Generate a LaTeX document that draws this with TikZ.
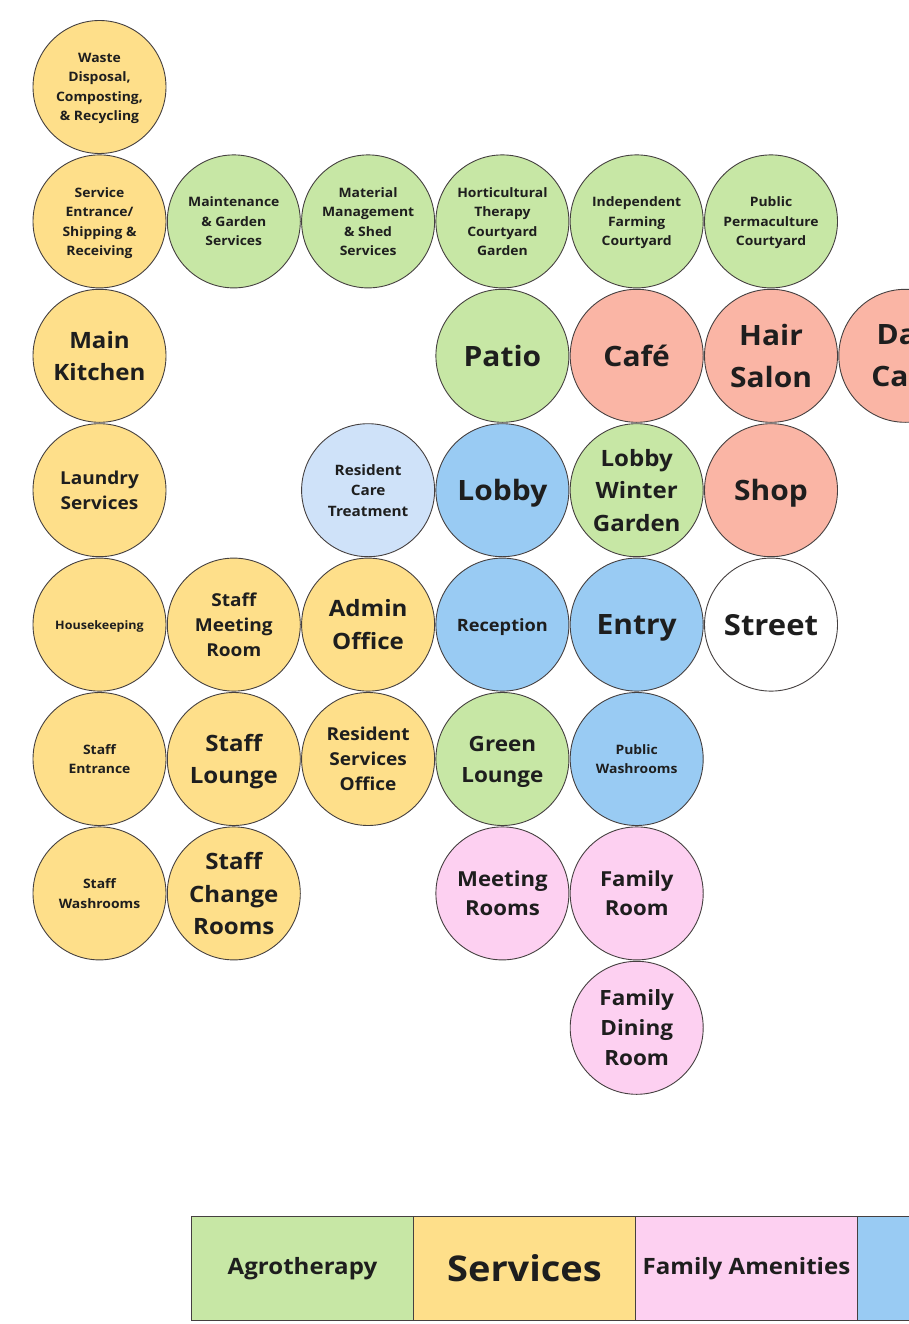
\documentclass[tikz,border=0pt]{standalone}
\usepackage{fontspec}
\setmainfont{Open Sans}[FakeStretch=1.07]
\definecolor{yel}{HTML}{FEDF8A}
\definecolor{grn}{HTML}{C7E7A5}
\definecolor{sal}{HTML}{FAB5A5}
\definecolor{blu}{HTML}{99CBF3}
\definecolor{lblu}{HTML}{CFE2F9}
\definecolor{pnk}{HTML}{FDD0F1}
\definecolor{txt}{HTML}{1E1E1E}
\definecolor{edge}{HTML}{454040}
\newcommand\fsz[2]{\fontsize{#1}{#2}\selectfont\bfseries}
\tikzset{
  room/.style={circle, draw=edge, line width=0.9pt, minimum size=133pt, inner sep=0pt, align=center, text=txt, text depth=0pt},
  tiny/.style={font=\fsz{11.7}{15}},
  small/.style={font=\fsz{13}{19.5}},
  mid/.style={font=\fsz{17.8}{25}},
  big/.style={font=\fsz{22.5}{32.5}},
  huge/.style={font=\fsz{28}{42}},
  legend/.style={draw=edge, line width=0.9pt, minimum width=222pt, minimum height=104pt, inner sep=0pt, text=txt, anchor=north west}
}
\begin{document}
\begin{tikzpicture}[x=1pt,y=-1pt]
\useasboundingbox (0,0) rectangle (909,1324);
\clip (0,0) rectangle (909,1324);
% row 1
\node[room, small, fill=yel] (waste) at (99.5,87) {Waste\\Disposal,\\Composting,\\\& Recycling};
% row 2
\node[room, small, fill=yel] (service) at (99.5,221.4) {Service\\Entrance/\\Shipping \&\\Receiving};
\node[room, small, fill=grn] (maint) at (233.8,221.4) {Maintenance\\\& Garden\\Services};
\node[room, small, fill=grn] (material) at (368.1,221.4) {Material\\Management\\\& Shed\\Services};
\node[room, small, fill=grn] (hort) at (502.4,221.4) {Horticultural\\Therapy\\Courtyard\\Garden};
\node[room, small, fill=grn] (indep) at (636.7,221.4) {Independent\\Farming\\Courtyard};
\node[room, small, fill=grn] (perma) at (771,221.4) {Public\\Permaculture\\Courtyard};
% row 3
\node[room, big, fill=yel] (kitchen) at (99.5,355.8) {Main\\Kitchen};
\node[room, huge, fill=grn] (patio) at (502.4,355.8) {Patio};
\node[room, huge, fill=sal] (cafe) at (636.7,355.8) {Café};
\node[room, huge, fill=sal] (hair) at (771,355.8) {Hair\\Salon};
\node[room, huge, fill=sal] (daycare) at (905.3,355.8) {Day\\Care};
% row 4
\node[room, mid, fill=yel] (laundry) at (99.5,490.2) {Laundry\\Services};
\node[room, font=\fsz{14.3}{20.5}, fill=lblu] (care) at (368.1,490.2) {Resident\\Care\\Treatment};
\node[room, huge, fill=blu] (lobby) at (502.4,490.2) {Lobby};
\node[room, big, fill=grn] (winter) at (636.7,490.2) {Lobby\\Winter\\Garden};
\node[room, huge, fill=sal] (shop) at (771,490.2) {Shop};
% row 5
\node[room, tiny, fill=yel] (house) at (99.5,624.6) {Housekeeping};
\node[room, mid, fill=yel] (smeet) at (233.8,624.6) {Staff\\Meeting\\Room};
\node[room, big, fill=yel] (admin) at (368.1,624.6) {Admin\\Office};
\node[room, font=\fsz{17}{22}, fill=blu] (recep) at (502.4,624.6) {Reception};
\node[room, huge, fill=blu] (entry) at (636.7,624.6) {Entry};
\node[room, font=\fsz{29}{36}, fill=white] (street) at (771,624.6) {Street};
% row 6
\node[room, small, fill=yel] (sentr) at (99.5,759) {Staff\\Entrance};
\node[room, big, fill=yel] (slounge) at (233.8,759) {Staff\\Lounge};
\node[room, mid, fill=yel] (rso) at (368.1,759) {Resident\\Services\\Office};
\node[room, font=\fsz{21}{31}, fill=grn] (glounge) at (502.4,759) {Green\\Lounge};
\node[room, small, fill=blu] (pwash) at (636.7,759) {Public\\Washrooms};
% row 7
\node[room, small, fill=yel] (swash) at (99.5,893.4) {Staff\\Washrooms};
\node[room, big, fill=yel] (schange) at (233.8,893.4) {Staff\\Change\\Rooms};
\node[room, font=\fsz{20.7}{29}, fill=pnk] (meet) at (502.4,893.4) {Meeting\\Rooms};
\node[room, font=\fsz{20.7}{29}, fill=pnk] (froom) at (636.7,893.4) {Family\\Room};
% row 8
\node[room, font=\fsz{21}{30}, fill=pnk] (fdining) at (636.7,1027.8) {Family\\Dining\\Room};
% legend
\node[legend, fill=grn, font=\fsz{22.5}{28}] (lagro) at (191,1216) {Agrotherapy};
\node[legend, fill=yel, font=\fsz{35.5}{42}] (lserv) at (413,1216) {Services};
\node[legend, fill=pnk, font=\fsz{22.5}{28}] (lfam) at (635,1216) {Family Amenities};
\node[legend, fill=blu] (lpub) at (857,1216) {};
\end{tikzpicture}
\end{document}
